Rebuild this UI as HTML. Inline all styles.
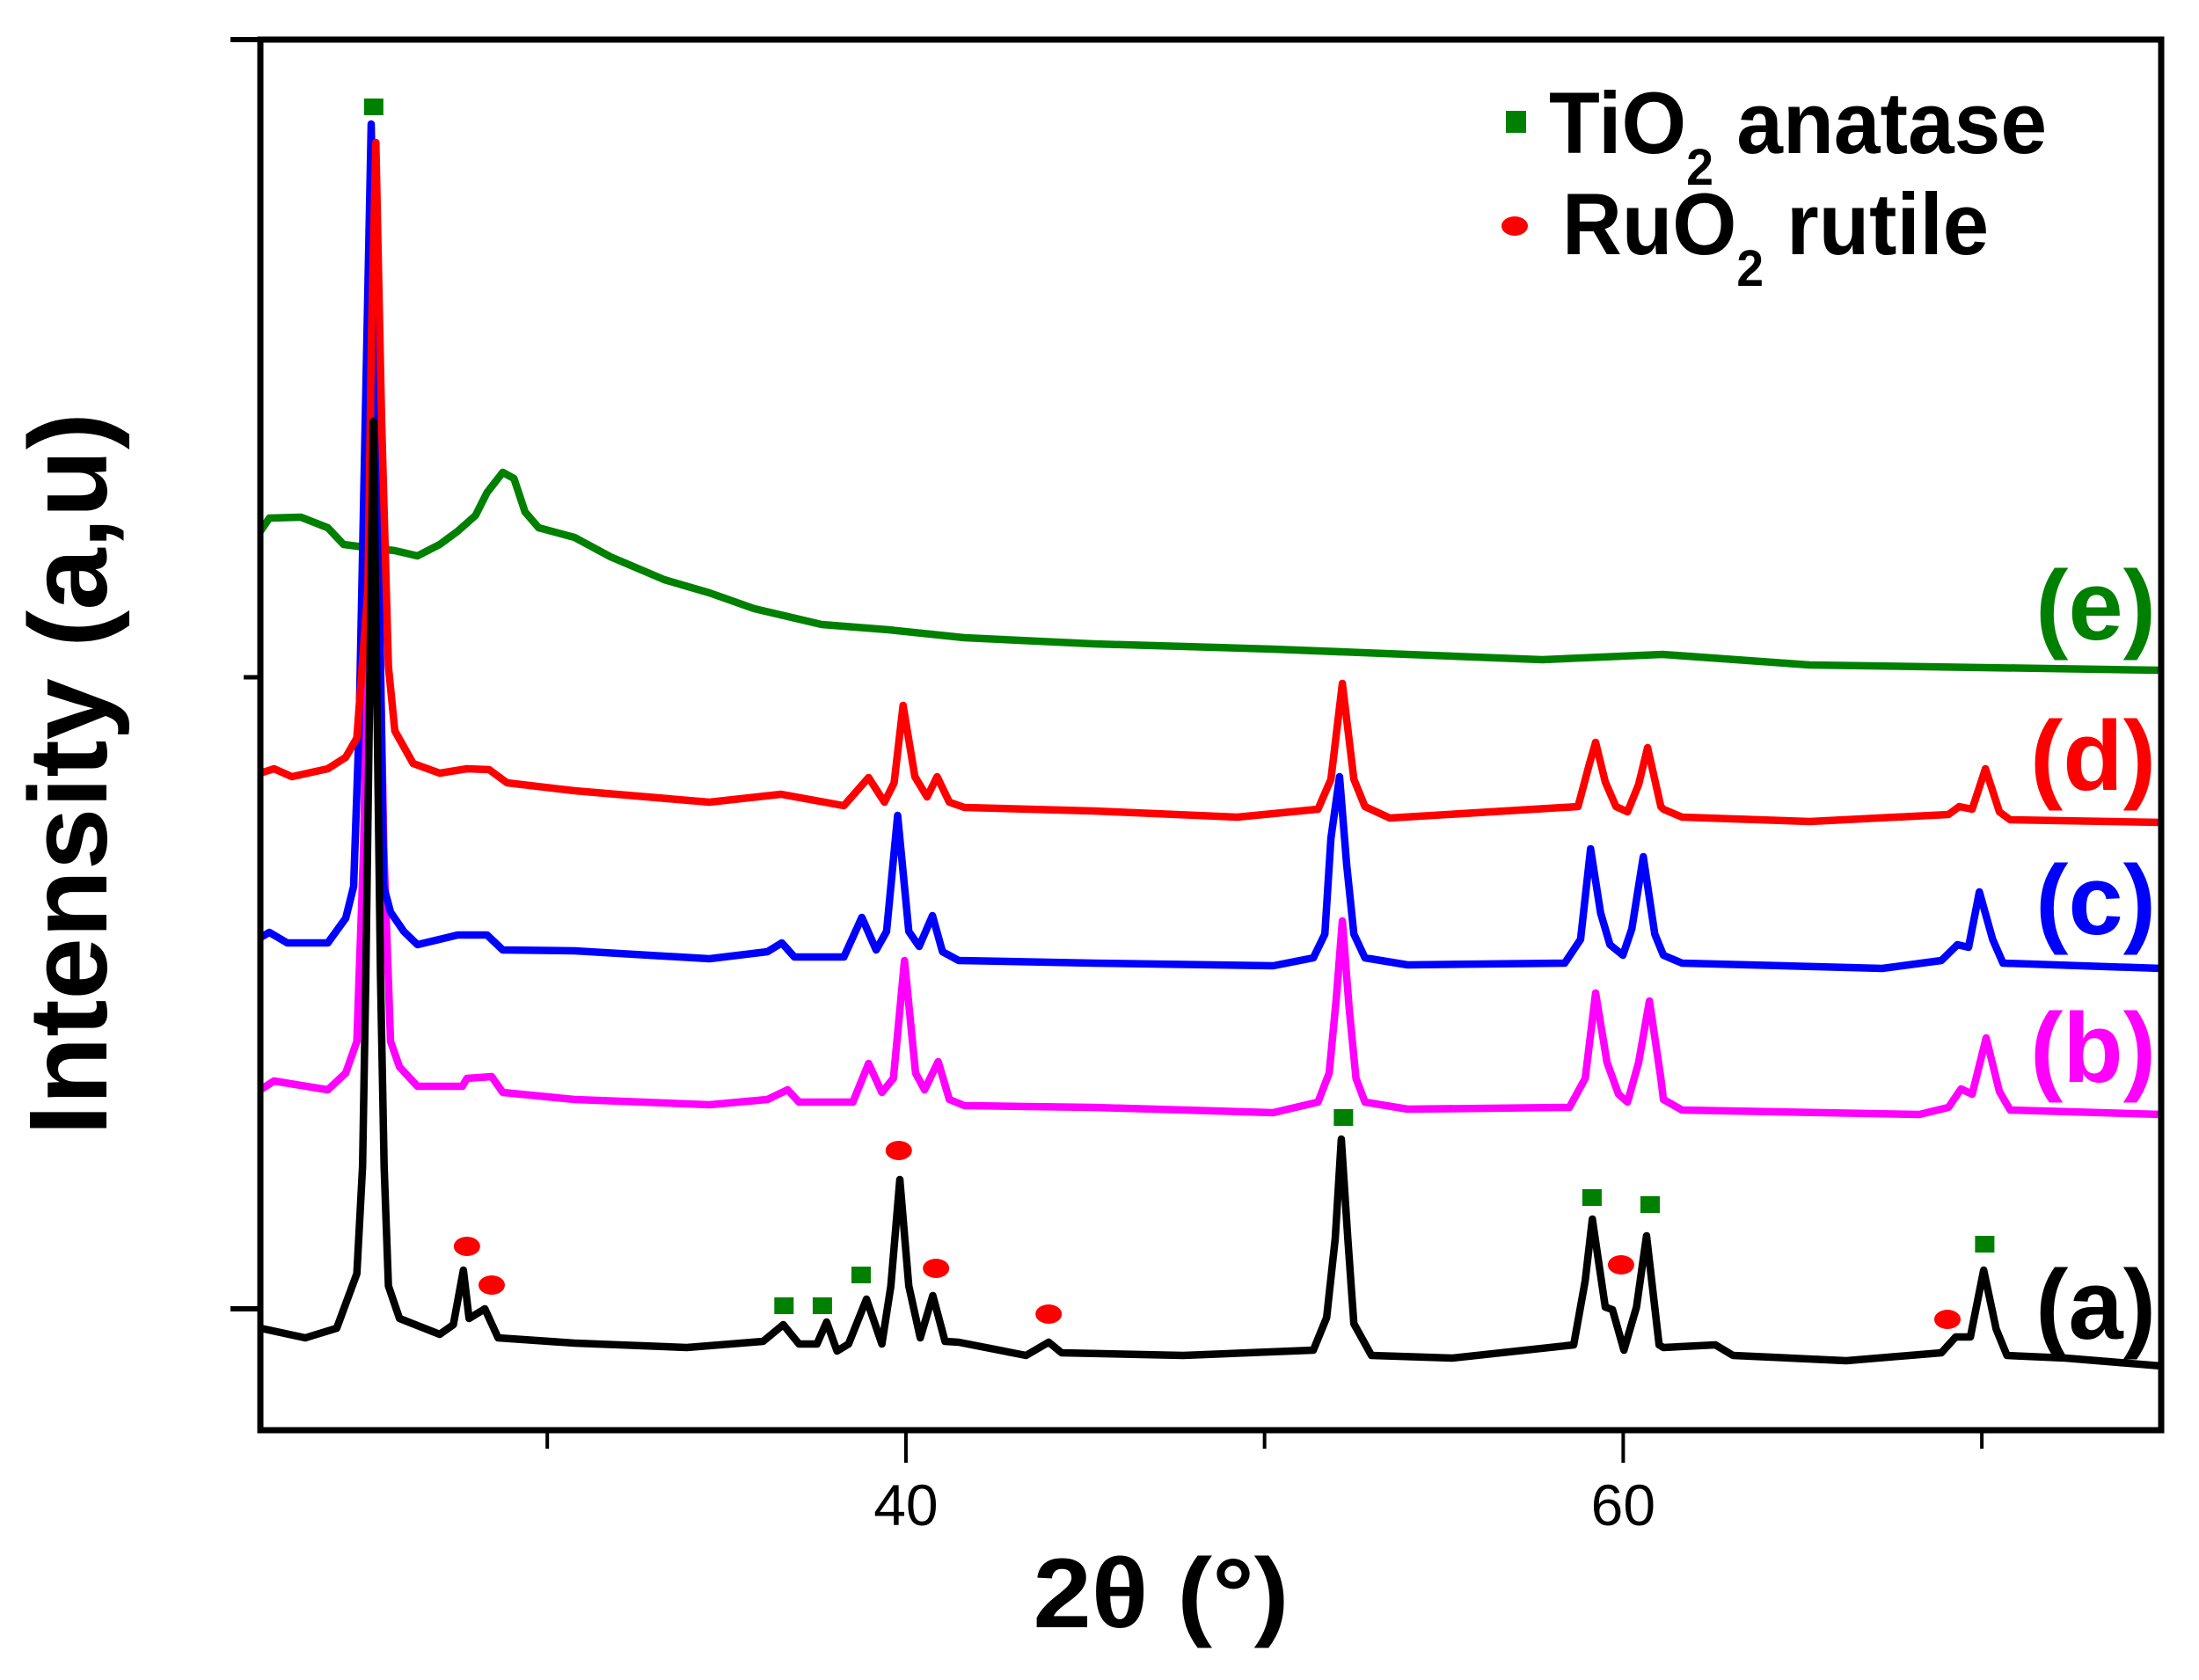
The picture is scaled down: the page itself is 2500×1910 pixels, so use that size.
<!DOCTYPE html>
<html><head><meta charset="utf-8"><style>
html,body{margin:0;padding:0;background:#fff;}
svg{display:block;}
text{font-family:"Liberation Sans",Arial,sans-serif;}
</style></head><body>
<svg id="chart" width="2500" height="1910" viewBox="0 0 2500 1910" xmlns="http://www.w3.org/2000/svg">
<rect x="0" y="0" width="2500" height="1910" fill="#fff"/>
<g id="curves"></g>
<g id="markers"></g>
<g id="axes"></g>
<g>
  <rect x="1712" y="126" width="23" height="25" fill="#008000"/>
  <text x="1761" y="174" font-size="99" font-weight="bold" textLength="566" lengthAdjust="spacingAndGlyphs">TiO<tspan font-size="58" dy="36">2</tspan><tspan dy="-36"> anatase</tspan></text>
  <ellipse cx="1722" cy="257" rx="15" ry="11" fill="#ff0000"/>
  <text x="1776" y="289" font-size="99" font-weight="bold" textLength="485" lengthAdjust="spacingAndGlyphs">RuO<tspan font-size="58" dy="36">2</tspan><tspan dy="-36"> rutile</tspan></text>
</g>
<g>
  <text x="2451" y="727" font-size="112" font-weight="bold" fill="#008000" text-anchor="end">(e)</text>
  <text x="2451" y="898" font-size="112" font-weight="bold" fill="#ff0000" text-anchor="end">(d)</text>
  <text x="2451" y="1062" font-size="112" font-weight="bold" fill="#0000ff" text-anchor="end">(c)</text>
  <text x="2451" y="1230" font-size="112" font-weight="bold" fill="#ff00ff" text-anchor="end">(b)</text>
  <text x="2451" y="1522" font-size="112" font-weight="bold" fill="#000" text-anchor="end">(a)</text>
</g>
<text x="1320" y="1850" font-size="112" font-weight="bold" text-anchor="middle" textLength="291" lengthAdjust="spacingAndGlyphs">2θ (°)</text>
<text transform="translate(121,880) rotate(-90)" x="0" y="0" font-size="126" font-weight="bold" text-anchor="middle" textLength="822" lengthAdjust="spacingAndGlyphs">Intensity (a,u)</text>
</svg>
<script>
const xDomain = [22, 75];
const yDomain = [0, 1581];
const xTickValues = [30, 40, 50, 60, 70];
const xTickLabels = ["", "40", "", "60", ""];
const yTickValues = [138, 856, 1581];
const yTickMajor = [true, false, true];

const seriesA = [[22.0,116],[23.25,105],[24.13,116],[24.69,178],[24.85,300],[24.94,516],[25.15,1147],[25.35,516],[25.45,300],[25.57,164],[25.88,127],[27.0,109],[27.38,120],[27.66,182],[27.82,127],[28.26,138],[28.63,105],[30.76,99],[33.89,94],[36.02,101],[36.58,120],[37.02,98],[37.52,98],[37.79,123],[38.08,90],[38.4,98],[38.9,149],[39.33,98],[39.58,164],[39.83,285],[40.08,164],[40.4,105],[40.75,153],[41.09,101],[41.47,100],[43.35,85],[43.98,100],[44.34,88],[47.73,85],[51.36,91],[51.73,128],[51.97,218],[52.14,331],[52.32,218],[52.49,121],[52.98,85],[55.23,82],[58.62,97],[58.94,170],[59.14,240],[59.5,140],[59.7,137],[60.02,91],[60.37,140],[60.65,221],[61.0,97],[61.12,94],[62.57,97],[63.06,85],[66.22,79],[68.87,88],[69.27,106],[69.68,106],[70.05,182],[70.4,115],[70.7,85],[72.33,82],[75.0,73]];
const seriesB = [[22.0,387],[22.38,397],[23.88,387],[24.38,406],[24.69,442],[24.88,662],[25.15,1330],[25.44,662],[25.63,442],[25.88,413],[26.38,391],[27.63,391],[27.76,400],[28.45,402],[28.76,384],[30.76,376],[34.52,370],[36.14,376],[36.7,387],[37.02,373],[38.52,373],[38.96,417],[39.33,384],[39.65,400],[39.96,534],[40.27,406],[40.52,387],[40.9,419],[41.21,376],[41.63,369],[43.35,368],[45.23,367],[50.24,361],[51.49,373],[51.8,406],[52.0,491],[52.17,579],[52.36,479],[52.55,400],[52.8,373],[53.99,365],[58.5,367],[58.94,400],[59.23,497],[59.55,418],[59.87,382],[60.12,373],[60.43,418],[60.73,488],[61.05,400],[61.12,376],[61.64,364],[68.26,359],[69.07,367],[69.42,388],[69.73,382],[70.12,446],[70.49,385],[70.79,364],[75.0,359]];
const seriesC = [[22.0,560],[22.25,566],[22.75,554],[23.88,554],[24.38,582],[24.6,618],[24.75,795],[24.95,1200],[25.09,1485],[25.25,1150],[25.44,618],[25.63,589],[26.0,567],[26.38,552],[27.5,563],[28.32,563],[28.76,546],[30.76,545],[34.52,536],[36.14,544],[36.54,554],[36.89,538],[38.27,538],[38.77,583],[39.17,546],[39.46,567],[39.77,699],[40.08,567],[40.37,550],[40.74,585],[41.02,544],[41.47,534],[45.23,531],[50.24,528],[51.36,537],[51.68,564],[51.85,673],[52.09,743],[52.29,643],[52.49,564],[52.8,537],[53.99,529],[58.37,531],[58.81,558],[59.09,661],[59.37,588],[59.63,552],[59.99,540],[60.24,570],[60.56,652],[60.88,564],[61.12,540],[61.64,531],[67.22,525],[68.87,534],[69.32,552],[69.63,549],[69.93,612],[70.3,558],[70.59,531],[75.0,525]];
const seriesD = [[22.0,747],[22.38,752],[22.88,743],[23.88,752],[24.38,765],[24.69,787],[25.0,956],[25.1,1250],[25.22,1464],[25.38,1150],[25.57,868],[25.75,795],[26.26,758],[27.0,747],[27.76,752],[28.38,751],[28.88,736],[30.76,727],[34.52,714],[36.52,723],[38.27,710],[38.96,742],[39.4,714],[39.67,736],[39.92,824],[40.25,743],[40.59,720],[40.87,743],[41.21,714],[41.63,708],[45.23,704],[49.24,697],[51.49,706],[51.85,740],[52.17,849],[52.49,740],[52.8,709],[53.49,696],[58.74,709],[59.06,758],[59.23,782],[59.5,737],[59.8,709],[60.12,703],[60.43,734],[60.68,776],[61.05,709],[61.12,706],[61.64,697],[65.2,692],[69.07,700],[69.37,709],[69.73,706],[70.1,752],[70.49,703],[70.79,694],[75.0,691]];
const seriesE = [[22.0,1022],[22.25,1037],[23.13,1038],[23.88,1026],[24.32,1007],[24.88,1004],[25.75,1000],[26.38,994],[27.0,1007],[27.5,1022],[28.0,1040],[28.32,1066],[28.76,1089],[29.07,1082],[29.38,1044],[29.76,1026],[30.76,1015],[31.76,993],[33.26,967],[34.52,952],[35.77,934],[37.65,916],[39.52,910],[41.63,901],[45.23,894],[50.23,888],[53.98,882],[57.74,876],[61.1,882],[65.2,870],[75.0,864]];

const anataseMarks = [[25.16,1505],[36.6,142],[37.67,142],[38.75,177],[52.2,356],[59.13,265],[60.75,257],[70.08,212]];
const rutileMarks = [[27.76,209],[28.45,165],[39.8,318],[40.84,184],[43.98,132],[59.94,188],[69.04,126]];

const L = 296, R = 2457, T = 45, B = 1626;
function sx(v){ return L + (v - xDomain[0]) / (xDomain[1] - xDomain[0]) * (R - L); }
function sy(v){ return B - (v - yDomain[0]) / (yDomain[1] - yDomain[0]) * (B - T); }
const NS = "http://www.w3.org/2000/svg";

const curves = document.getElementById('curves');
function drawSeries(data, color, name){
  const p = document.createElementNS(NS, 'path');
  p.setAttribute('d', data.map((d,i)=>(i?'L':'M')+sx(d[0]).toFixed(1)+' '+sy(d[1]).toFixed(1)).join(' '));
  p.setAttribute('fill', 'none');
  p.setAttribute('stroke', color);
  p.setAttribute('stroke-width', '8.5');
  p.setAttribute('stroke-linejoin', 'round');
  
  
  curves.appendChild(p);
}
drawSeries(seriesE, '#008000', 'series-e-line');
drawSeries(seriesB, '#ff00ff', 'series-b-line');
drawSeries(seriesC, '#0000ff', 'series-c-line');
drawSeries(seriesD, '#ff0000', 'series-d-line');
drawSeries(seriesA, '#000000', 'series-a-line');

const mk = document.getElementById('markers');
anataseMarks.forEach(d=>{
  const r = document.createElementNS(NS, 'rect');
  r.setAttribute('x', sx(d[0]) - 11);
  r.setAttribute('y', sy(d[1]) - 9);
  r.setAttribute('width', 22);
  r.setAttribute('height', 19);
  r.setAttribute('fill', '#008000');
  
  
  mk.appendChild(r);
});
rutileMarks.forEach(d=>{
  const e = document.createElementNS(NS, 'ellipse');
  e.setAttribute('cx', sx(d[0]));
  e.setAttribute('cy', sy(d[1]));
  e.setAttribute('rx', 15);
  e.setAttribute('ry', 11);
  e.setAttribute('fill', '#ff0000');
  
  
  mk.appendChild(e);
});

const ax = document.getElementById('axes');
function line(x1,y1,x2,y2,w,name){
  const l = document.createElementNS(NS, 'line');
  l.setAttribute('x1', x1); l.setAttribute('y1', y1);
  l.setAttribute('x2', x2); l.setAttribute('y2', y2);
  l.setAttribute('stroke', '#000');
  l.setAttribute('stroke-width', w);
  
  
  ax.appendChild(l);
}
line(L, T-3.5, L, B+3.5, 7, 'y-axis-line');
line(R, T-3.5, R, B+3.5, 7, 'right-frame-line');
line(L-3.5, T, R+3.5, T, 7, 'top-frame-line');
line(L-3.5, B, R+3.5, B, 7, 'x-axis-line');
xTickValues.forEach((v,i)=>{
  const major = xTickLabels[i] !== "";
  line(sx(v), B, sx(v), B + (major ? 37 : 21), 4, 'x-tick');
  if (major) {
    const t = document.createElementNS(NS, 'text');
    t.setAttribute('x', sx(v));
    t.setAttribute('y', 1734);
    t.setAttribute('font-size', '66');
    t.setAttribute('text-anchor', 'middle');
    t.textContent = xTickLabels[i];
    
    
    ax.appendChild(t);
  }
});
yTickValues.forEach((v,i)=>{
  line(L - (yTickMajor[i] ? 34 : 19), sy(v), L, sy(v), yTickMajor[i] ? 6 : 5, 'y-tick');
});
</script>
</body></html>
